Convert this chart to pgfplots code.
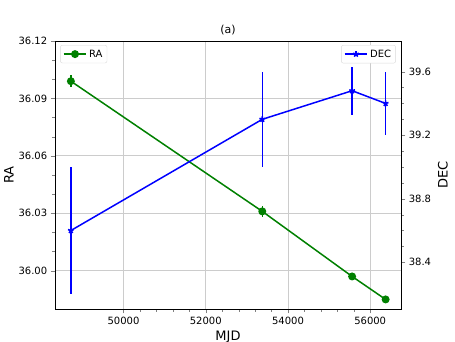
\documentclass[border=0pt]{standalone}
\usepackage{fontspec}
\setmainfont{DejaVu Sans}
\usepackage{pgfplots}
\pgfplotsset{compat=1.18}

\definecolor{mplgreen}{RGB}{0,128,0}

\pgfplotsset{
  common/.style={
    width=346pt, height=268pt, scale only axis,
    at={(0,0)}, anchor=south west,
    xmin=48334, xmax=56749,
    /pgf/number format/assume math mode=true,
    tick align=outside,
    tick label style={font=\fontsize{10}{12}\selectfont},
    label style={font=\fontsize{13}{15}\selectfont},
    scaled ticks=false,
    legend style={font=\fontsize{10}{12}\selectfont, draw=black!15, rounded corners=2pt, inner sep=2.5pt,
      nodes={inner sep=2pt}},
    legend image code/.code={
      \draw[mark repeat=2,mark phase=2] plot coordinates {(0cm,0cm) (0.4cm,0cm) (0.8cm,0cm)};},
    legend cell align=left,
  }
}

\begin{document}
\begin{tikzpicture}
\useasboundingbox (-55pt,-32pt) rectangle (400pt,309pt);
\begin{axis}[
  common,
  ymin=35.980, ymax=36.12,
  xtick={50000,52000,54000,56000},
  minor x tick num=4,
  ytick={36.00,36.03,36.06,36.09,36.12},
  minor y tick num=2,
  xtick pos=bottom, ytick pos=left,
  xticklabel style={/pgf/number format/1000 sep={}},
  yticklabel style={/pgf/number format/fixed, /pgf/number format/fixed zerofill, /pgf/number format/precision=2},
  grid=major,
  major grid style={black!20, line width=0.8pt},
  xlabel={MJD}, ylabel={RA},
  ylabel style={yshift=-2pt},
  title={(a)}, title style={font=\fontsize{11}{13}\selectfont, yshift=-3pt},
  legend style={at={(0.015,0.985)}, anchor=north west},
]
\addplot[color=mplgreen, line width=1.5pt, mark=*, mark size=3.2pt,
  error bars/.cd, y dir=both, y explicit, error bar style={line width=1.5pt, color=mplgreen}, error mark=none]
coordinates {
  (48720,36.099) +- (0,0.003)
  (53375,36.031) +- (0,0.003)
  (55560,35.997) +- (0,0.001)
  (56375,35.985) +- (0,0.001)
};
\addlegendentry{RA}
\end{axis}
\begin{axis}[
  common,
  ymin=38.106, ymax=39.793,
  axis x line=none,
  axis y line*=right,
  ytick={38.4,38.8,39.2,39.6},
  minor y tick num=3,
  yticklabel style={/pgf/number format/fixed, /pgf/number format/fixed zerofill, /pgf/number format/precision=1},
  ylabel={DEC},
  ylabel style={yshift=0pt},
  legend style={at={(0.985,0.985)}, anchor=north east},
]
\addplot[color=blue, line width=1.5pt, mark=star, mark size=3pt, mark options={line width=1.6pt},
  error bars/.cd, y dir=both, y explicit, error bar style={line width=1.5pt, color=blue}, error mark=none]
coordinates {
  (48720,38.60) +- (0,0.40)
  (53375,39.30) +- (0,0.30)
  (55560,39.48) +- (0,0.15)
  (56375,39.40) +- (0,0.20)
};
\addlegendentry{DEC}
\end{axis}
\end{tikzpicture}
\end{document}
